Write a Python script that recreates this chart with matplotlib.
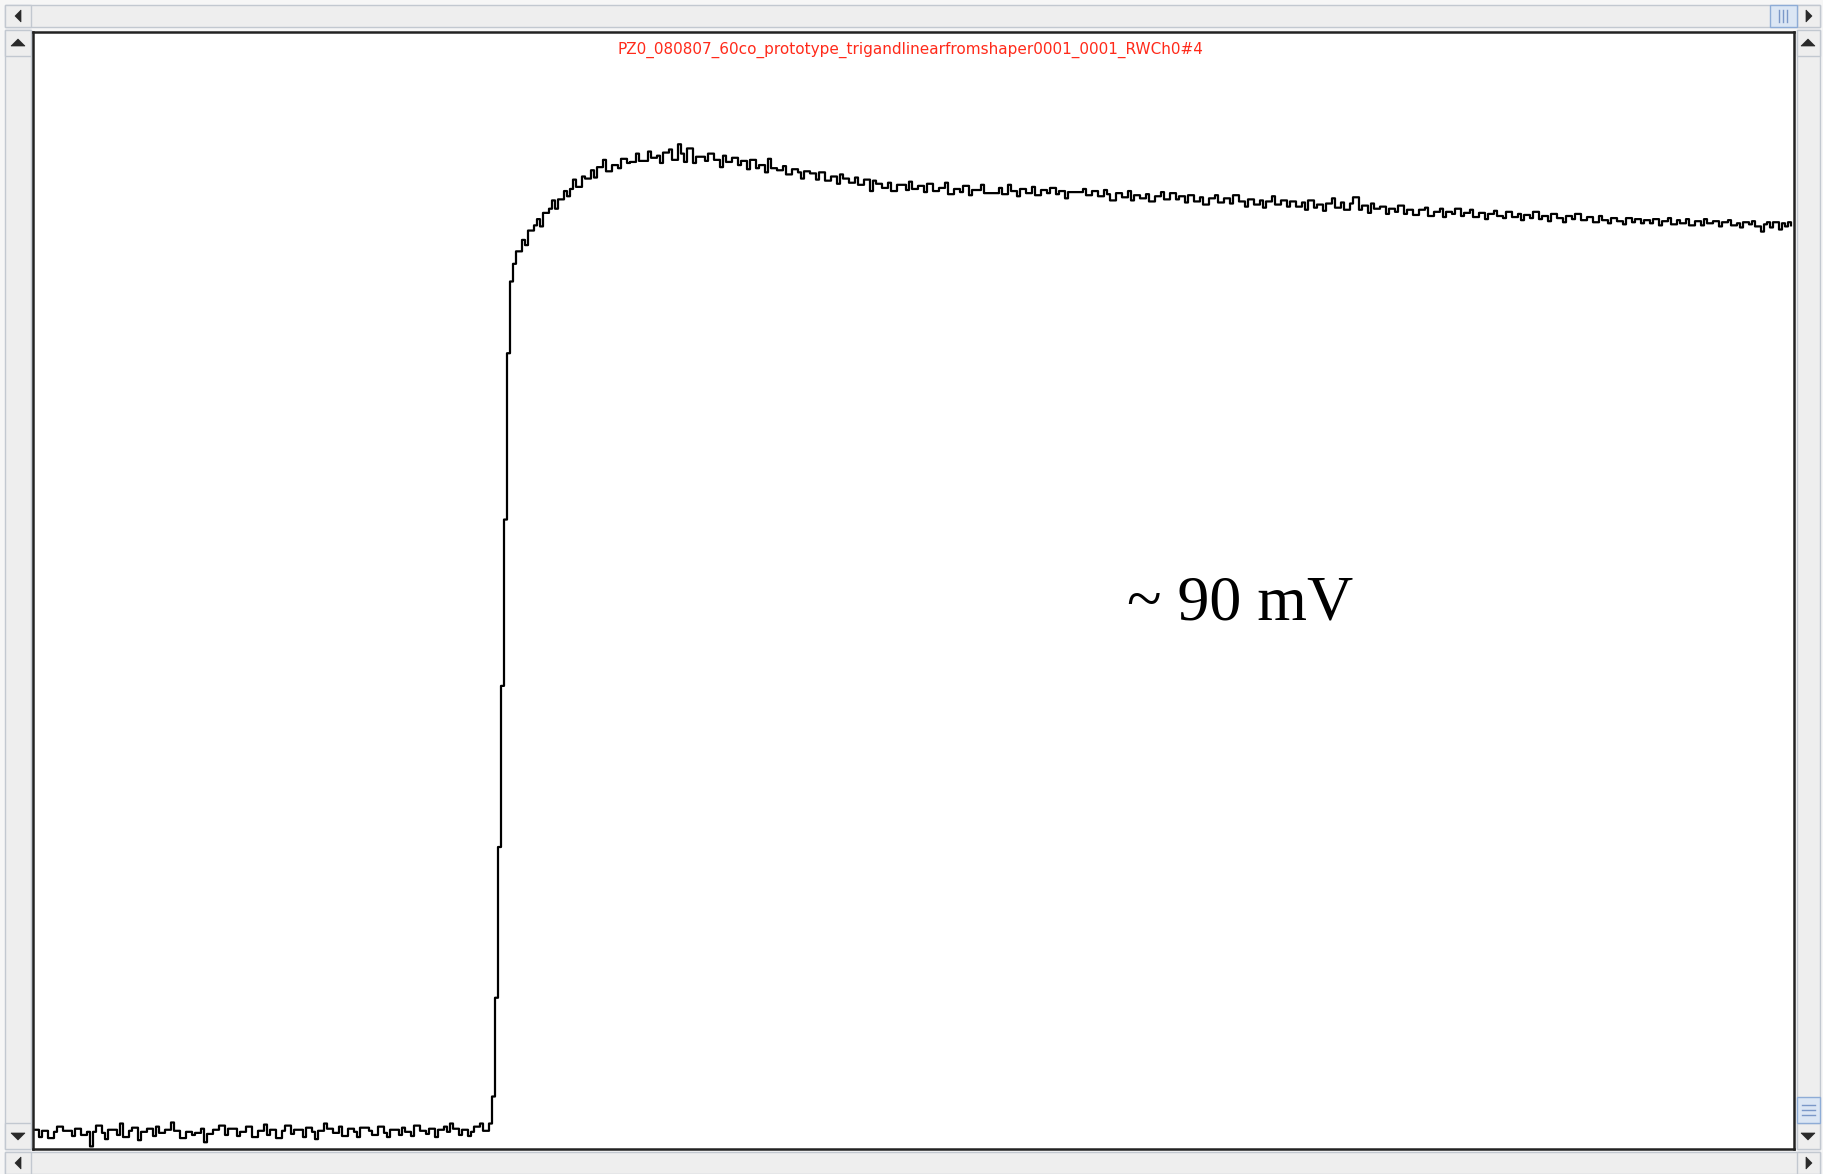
import matplotlib
matplotlib.use('Agg')
import matplotlib.pyplot as plt
from matplotlib.patches import Rectangle, Polygon
import numpy as np

# trace values in mV, one sample every ~3 px of the screenshot
baseline = [0.3, 0.3, -0.4, 0.2, 0.2, -0.5, -0.5, 0.1, 0.6, 0.6, 0.2, 0.2, 0.2, -0.3, 0.4, 0.4, -0.2, -0.2, 0.1, -1.3,
            0.1, 0.7, 0.7, 0.0, -0.6, 0.3, 0.3, 0.3, -0.2, 0.9, -0.4, -0.4, 0.2, 0.5, 0.5, -0.7, 0.1, 0.1, 0.4, 0.4,
            -0.3, 0.6, 0.0, 0.0, 0.3, 0.3, 1.0, 0.2, 0.2, -0.5, -0.5, 0.1, 0.1, -0.2, 0.0, 0.0, 0.4, -0.9, -0.1, -0.1,
            0.3, 0.3, 0.7, 0.7, -0.2, 0.4, 0.4, 0.4, -0.3, 0.1, 0.1, 0.6, 0.6, -0.4, -0.4, 0.2, 0.2, 0.8, -0.2, 0.3,
            0.3, -0.5, -0.5, 0.2, 0.7, 0.7, -0.1, 0.3, 0.3, 0.3, -0.4, 0.5, 0.5, 0.1, -0.6, 0.2, 0.2, 0.9, 0.4, 0.4,
            0.0, 0.0, 0.6, -0.3, -0.3, 0.4, 0.4, 0.1, -0.4, 0.5, 0.5, 0.5, 0.2, -0.2, -0.2, 0.6, 0.6, 0.0, -0.4, 0.3,
            0.3, 0.3, -0.2, 0.5, 0.1, 0.1, -0.3, 0.7, 0.7, 0.2, 0.2, -0.1, 0.4, 0.4, -0.4, 0.3, 0.3, 0.6, 0.1, 0.9,
            0.4, 0.4, -0.2, 0.3, 0.3, -0.3, 0.1, 0.6, 0.6, 0.9, 0.2, 0.2, 0.9]

rise = [3.5, 13.0, 27.5, 43.0, 59.0, 75.0]

plateau = [81.9, 83.6, 84.8, 84.8, 85.9, 85.4, 86.8, 86.8, 87.3, 87.9, 87.2, 88.5, 88.5, 88.9, 89.7, 88.9, 89.8, 89.8, 90.6, 90.1,
           90.8, 91.7, 91.0, 91.0, 92.0, 91.8, 91.8, 92.6, 91.9, 92.9, 92.9, 93.6, 92.5, 92.5, 93.1, 93.1, 92.8, 93.7, 93.7, 93.3,
           93.4, 93.4, 94.2, 93.5, 93.5, 93.5, 94.4, 93.8, 93.8, 94.0, 93.3, 94.3, 94.3, 94.6, 93.6, 93.6, 95.1, 94.2, 93.4, 94.7,
           94.7, 93.3, 93.9, 93.9, 93.9, 93.5, 94.2, 94.2, 93.6, 93.6, 92.9, 94.0, 93.4, 93.4, 93.8, 93.8, 93.1, 93.5, 93.5, 92.7,
           93.6, 93.6, 92.8, 93.1, 93.1, 92.4, 93.7, 92.8, 92.8, 92.6, 92.6, 93.0, 92.2, 92.2, 92.7, 92.7, 92.4, 91.8, 92.5, 92.5,
           92.3, 92.3, 91.7, 92.4, 92.4, 91.6, 91.6, 92.0, 92.0, 91.3, 92.2, 91.8, 91.8, 91.4, 91.4, 91.9, 91.2, 91.2, 91.7, 91.7,
           90.6, 91.6, 91.3, 91.3, 90.9, 90.9, 91.4, 90.6, 90.6, 91.2, 91.2, 91.2, 90.7, 91.5, 90.8, 90.8, 91.1, 91.1, 90.5, 91.3,
           91.3, 90.6, 90.6, 90.9, 90.9, 91.4, 90.3, 90.3, 90.8, 90.8, 90.5, 91.1, 91.1, 90.2, 90.7, 90.7, 90.7, 91.2, 90.4, 90.4,
           90.4, 90.4, 90.4, 90.9, 90.3, 90.3, 91.2, 90.6, 90.6, 90.1, 90.8, 90.8, 90.4, 90.4, 91.0, 90.2, 90.2, 90.7, 90.7, 90.4,
           90.9, 90.9, 90.3, 90.6, 90.6, 89.9, 90.5, 90.5, 90.5, 90.5, 90.5, 90.8, 90.2, 90.2, 90.6, 90.6, 90.1, 90.1, 90.7, 90.3,
           89.7, 89.7, 90.4, 90.4, 90.0, 90.0, 90.6, 89.7, 90.2, 90.2, 89.9, 89.9, 90.3, 89.6, 89.6, 90.1, 90.1, 90.5, 89.8, 89.8,
           90.4, 90.4, 89.8, 90.1, 90.1, 89.5, 90.2, 90.2, 89.6, 89.6, 90.0, 89.3, 89.3, 89.9, 89.9, 90.2, 89.5, 89.5, 89.9, 89.9,
           89.4, 90.2, 90.2, 89.6, 89.6, 89.1, 89.8, 89.8, 89.3, 89.3, 89.7, 89.0, 89.6, 89.6, 90.1, 89.3, 89.3, 89.7, 89.7, 89.1,
           89.6, 89.6, 89.1, 89.1, 89.5, 88.8, 89.7, 89.7, 89.0, 89.3, 89.3, 88.7, 89.4, 89.4, 89.9, 89.0, 89.0, 89.5, 88.8, 88.8,
           89.4, 90.0, 90.0, 88.8, 89.2, 89.2, 88.5, 89.4, 88.9, 88.9, 89.1, 89.1, 88.4, 88.9, 88.9, 88.6, 89.2, 89.2, 88.4, 88.8,
           88.8, 88.3, 88.3, 88.8, 88.8, 89.0, 88.2, 88.2, 88.6, 88.6, 88.9, 88.1, 88.6, 88.6, 88.4, 88.9, 88.9, 88.2, 88.5, 88.5,
           88.8, 88.1, 88.1, 88.5, 88.5, 87.9, 88.4, 88.4, 88.7, 88.2, 88.2, 88.0, 88.6, 88.6, 88.1, 88.1, 88.4, 87.8, 88.3, 88.3,
           88.0, 88.6, 88.6, 87.9, 88.2, 88.2, 87.7, 88.4, 88.4, 88.0, 88.0, 87.6, 88.2, 88.2, 87.9, 88.4, 88.4, 87.8, 87.8, 88.1,
           88.1, 87.6, 87.6, 88.2, 87.8, 87.8, 87.5, 88.0, 88.0, 87.7, 87.7, 87.4, 88.0, 88.0, 87.6, 87.9, 87.9, 87.5, 87.8, 87.8,
           87.5, 87.9, 87.9, 87.3, 87.7, 87.7, 88.0, 87.4, 87.4, 87.8, 87.5, 87.5, 87.9, 87.3, 87.3, 87.7, 87.7, 87.3, 87.9, 87.5,
           87.5, 87.7, 87.7, 87.2, 87.6, 87.6, 87.8, 87.3, 87.3, 87.5, 87.1, 87.6, 87.6, 87.4, 87.7, 87.2, 87.2, 86.7, 87.4, 87.6,
           87.1, 87.6, 87.6, 86.9, 87.5, 87.2, 87.6, 87.3]

title = 'PZ0_080807_60co_prototype_trigandlinearfromshaper0001_0001_RWCh0#4'
label = '~ 90 mV'

signal = np.array(baseline + rise + plateau)
samples = np.arange(len(signal))

W, H = 1823, 1174
fig = plt.figure(figsize=(W/100, H/100), dpi=100)
fig.patch.set_facecolor('#f6f6f6')

# window chrome drawn in pixel coords
bg = fig.add_axes([0, 0, 1, 1])
bg.set_xlim(0, W)
bg.set_ylim(H, 0)
bg.axis('off')

track = '#eeeeee'
edge = '#c2c8d0'
arrow = '#2a2a2a'

def box(x0, y0, x1, y1, fc=track, ec=edge):
    bg.add_patch(Rectangle((x0, y0), x1-x0, y1-y0, facecolor=fc, edgecolor=ec, lw=1))

def tri(pts):
    bg.add_patch(Polygon(pts, closed=True, facecolor=arrow, edgecolor=arrow, lw=0.5))

# top scrollbar
box(5, 5, 1820, 27)
box(5, 5, 31, 27)
box(1797, 5, 1820, 27)
box(1770, 5, 1797, 27, fc='#dbe6f4', ec='#8eacd6')
for xx in (1779, 1783, 1787):
    bg.plot([xx, xx], [10, 22], color='#7b98c8', lw=1)
tri([(15, 16), (21, 10), (21, 22)])
tri([(1812, 16), (1806, 10), (1806, 22)])

# left scrollbar
box(5, 30, 31, 1149)
box(5, 30, 31, 56)
box(5, 1123, 31, 1149)
tri([(18, 39), (11, 46), (25, 46)])
tri([(18, 1140), (11, 1133), (25, 1133)])

# right scrollbar
box(1797, 30, 1820, 1149)
box(1797, 30, 1820, 56)
box(1797, 1123, 1820, 1149)
box(1797, 1097, 1820, 1123, fc='#dbe6f4', ec='#8eacd6')
for yy in (1105, 1110, 1115):
    bg.plot([1802, 1815], [yy, yy], color='#7b98c8', lw=1)
tri([(1808, 39), (1801, 46), (1815, 46)])
tri([(1808, 1140), (1801, 1133), (1815, 1133)])

# bottom scrollbar
box(5, 1152, 1820, 1174)
box(5, 1152, 31, 1174)
box(1797, 1152, 1820, 1174)
tri([(15, 1163), (21, 1157), (21, 1169)])
tri([(1812, 1163), (1806, 1157), (1806, 1169)])

# plot panel
ax = fig.add_axes([33/W, (H-1149)/H, 1761/W, 1117/H])
ax.set_facecolor('white')
ax.step(samples, signal, where='post', color='black', lw=1.6)
ax.set_xlim(0, len(signal))
ax.set_ylim(-1.55, 105.9)
ax.set_xticks([])
ax.set_yticks([])
for s in ax.spines.values():
    s.set_color('#222222')
    s.set_linewidth(1.8)

fig.text(910/W, 1 - 50/H, title, color='#ff2a1a', fontsize=11,
         ha='center', va='center', family='DejaVu Sans')
fig.text(1240/W, 1 - 605/H, label, color='black', fontsize=46,
         ha='center', va='center', family='Liberation Serif')

fig.savefig('out.png', dpi=100, facecolor=fig.get_facecolor())
